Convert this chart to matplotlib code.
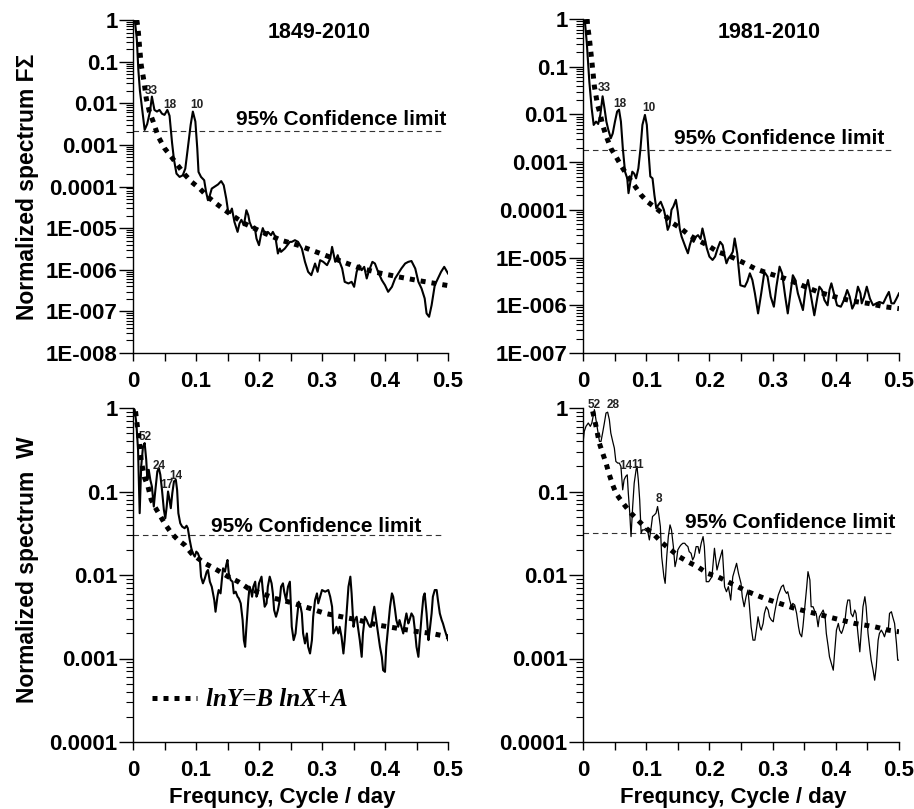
import numpy as np
import matplotlib
matplotlib.use('Agg')
import matplotlib.pyplot as plt
from matplotlib.ticker import FixedLocator, MultipleLocator, FuncFormatter, NullFormatter, LogLocator

plt.rcParams['font.family'] = ['Liberation Sans', 'DejaVu Sans']
plt.rcParams['font.weight'] = 'bold'

# ---- data (y kept as log10 of the normalized spectrum) ----
# top left: F-sigma spectrum, 1849-2010
fs1849_x = [0.0, 0.003, 0.006, 0.0085, 0.011, 0.015, 0.0185, 0.0225, 0.027, 0.030, 0.034, 0.038, 0.042,
            0.046, 0.050, 0.0545, 0.058, 0.062, 0.065, 0.069, 0.074, 0.079, 0.083, 0.087, 0.0915, 0.095,
            0.099, 0.102, 0.104, 0.108, 0.113, 0.116, 0.119, 0.122, 0.125, 0.130, 0.135, 0.140, 0.144,
            0.148, 0.151, 0.154, 0.157, 0.161, 0.166, 0.169, 0.172, 0.176, 0.180, 0.183, 0.185, 0.189,
            0.193, 0.196, 0.2, 0.203, 0.206, 0.21, 0.214, 0.219, 0.222, 0.226, 0.230, 0.233, 0.235, 0.241,
            0.245, 0.249, 0.252, 0.257, 0.262, 0.268, 0.273, 0.278, 0.283, 0.289, 0.293, 0.297, 0.302,
            0.308, 0.313, 0.316, 0.321, 0.325, 0.328, 0.332, 0.336, 0.342, 0.347, 0.351, 0.355, 0.359,
            0.363, 0.367, 0.371, 0.374, 0.380, 0.384, 0.389, 0.395, 0.4, 0.405, 0.411, 0.416, 0.421,
            0.426, 0.432, 0.437, 0.442, 0.448, 0.453, 0.458, 0.463, 0.466, 0.47, 0.474, 0.479, 0.484,
            0.489, 0.494, 0.5]
fs1849_log = [0.0, -0.02, -0.45, -1.2, -1.7, -2.2, -2.64, -2.5, -2.2, -1.84, -2.16, -2.2, -2.16,
              -2.25, -2.28, -2.16, -2.3, -2.95, -3.35, -3.69, -3.77, -3.73, -3.57, -3.08, -2.52, -2.2,
              -2.44, -3.08, -3.65, -3.77, -3.85, -4.13, -4.33, -4.21, -4.05, -4.0, -3.95, -3.87, -3.97,
              -4.29, -4.6, -4.64, -4.53, -4.85, -5.09, -4.89, -4.8, -4.93, -4.57, -4.69, -4.85, -5.0,
              -4.96, -5.25, -5.41, -5.17, -5.0, -5.17, -5.09, -5.17, -5.09, -5.21, -5.61, -5.49, -5.57, -5.49,
              -5.41, -5.33, -5.33, -5.29, -5.33, -5.49, -5.81, -6.05, -6.13, -5.85, -6.05, -5.77, -5.81,
              -5.89, -5.73, -5.45, -5.81, -5.65, -5.81, -5.97, -6.29, -6.33, -6.29, -6.41, -6.05, -5.89,
              -6.01, -5.93, -6.21, -6.05, -5.81, -5.85, -6.05, -6.25, -6.37, -6.53, -6.41, -6.21, -6.09,
              -5.97, -5.85, -5.81, -5.79, -5.97, -6.29, -6.45, -6.69, -7.05, -7.13, -6.85, -6.37, -6.21,
              -6.05, -5.93, -6.09]
fs1849_fit_x = [0.006, 0.008, 0.0106, 0.013, 0.0175, 0.021, 0.026, 0.032, 0.04, 0.05, 0.061, 0.071, 0.082,
                0.093, 0.106, 0.119, 0.132, 0.146, 0.161, 0.177, 0.204, 0.235, 0.262, 0.294, 0.326, 0.358,
                0.389, 0.421, 0.453, 0.484, 0.5]
fs1849_fit_log = [0.0, -0.2, -0.68, -1.08, -1.48, -1.88, -2.2, -2.44, -2.8, -3.08, -3.29, -3.49, -3.71,
                  -3.89, -4.05, -4.25, -4.41, -4.57, -4.73, -4.89, -5.09, -5.29, -5.41, -5.59, -5.77, -5.95,
                  -6.07, -6.17, -6.26, -6.34, -6.38]

# top right: F-sigma spectrum, 1981-2010
fs1981_x = [0.0, 0.003, 0.006, 0.010, 0.0137, 0.0169, 0.0206, 0.024, 0.0274, 0.031, 0.034, 0.037, 0.040,
            0.044, 0.047, 0.0506, 0.054, 0.057, 0.06, 0.063, 0.0665, 0.07, 0.072, 0.075, 0.078, 0.081,
            0.084, 0.0876, 0.091, 0.094, 0.098, 0.101, 0.104, 0.1065, 0.110, 0.113, 0.116, 0.119, 0.123,
            0.128, 0.131, 0.134, 0.137, 0.140, 0.143, 0.147, 0.150, 0.153, 0.156, 0.159, 0.163, 0.166,
            0.169, 0.172, 0.175, 0.179, 0.182, 0.186, 0.189, 0.192, 0.196, 0.2, 0.205, 0.209, 0.213,
            0.217, 0.221, 0.224, 0.227, 0.230, 0.234, 0.237, 0.240, 0.244, 0.249, 0.256, 0.26, 0.264,
            0.268, 0.272, 0.277, 0.282, 0.287, 0.292, 0.297, 0.302, 0.306, 0.311, 0.315, 0.32, 0.324,
            0.329, 0.332, 0.336, 0.34, 0.348, 0.352, 0.356, 0.36, 0.366, 0.371, 0.374, 0.378, 0.382,
            0.387, 0.39, 0.393, 0.397, 0.402, 0.408, 0.413, 0.418, 0.422, 0.426, 0.43, 0.435, 0.439,
            0.441, 0.445, 0.449, 0.454, 0.459, 0.464, 0.469, 0.475, 0.48, 0.484, 0.488, 0.492, 0.496, 0.5]
fs1981_log = [0.0, -0.05, -0.5, -1.31, -1.87, -2.22, -2.15, -2.2, -2.01, -1.62, -1.87, -2.15, -2.32,
              -2.5, -2.4, -2.15, -1.94, -1.9, -2.15, -2.71, -3.2, -3.34, -3.65, -3.41, -3.2, -3.24,
              -3.34, -3.13, -2.71, -2.22, -2.01, -2.22, -2.85, -3.3, -3.34, -3.69, -3.97, -3.9, -3.83,
              -4.0, -4.18, -4.42, -4.32, -4.0, -3.93, -3.79, -4.04, -4.39, -4.56, -4.67, -4.81, -4.91,
              -4.74, -4.61, -4.67, -4.56, -4.53, -4.61, -4.39, -4.56, -4.81, -4.98, -5.05, -4.98, -4.81,
              -4.67, -4.74, -4.95, -5.12, -5.02, -4.95, -4.88, -4.6, -4.91, -5.58, -5.61, -5.5, -5.33,
              -5.47, -5.75, -6.17, -5.75, -5.3, -5.4, -5.82, -6.03, -5.61, -5.19, -5.33, -5.82, -6.17,
              -5.68, -5.37, -5.47, -5.75, -6.1, -5.68, -5.47, -5.75, -6.21, -5.82, -5.61, -5.68, -5.89,
              -6.0, -5.68, -5.54, -5.75, -6.0, -6.03, -5.89, -5.68, -5.82, -6.07, -5.96, -5.61, -5.75,
              -5.96, -5.82, -5.61, -5.86, -6.0, -5.96, -5.93, -5.96, -5.82, -5.72, -5.96, -5.96, -5.86, -5.75]
fs1981_fit_x = [0.0065, 0.0074, 0.01, 0.0137, 0.018, 0.023, 0.0274, 0.031, 0.036, 0.044, 0.052, 0.061,
                0.071, 0.081, 0.092, 0.102, 0.116, 0.129, 0.142, 0.155, 0.168, 0.181, 0.197, 0.213, 0.229,
                0.245, 0.256, 0.272, 0.293, 0.32, 0.346, 0.372, 0.398, 0.425, 0.451, 0.477, 0.5]
fs1981_fit_log = [0.0, -0.15, -0.4, -0.85, -1.41, -1.8, -2.0, -2.22, -2.43, -2.71, -2.88, -3.09,
                  -3.3, -3.48, -3.69, -3.83, -3.97, -4.11, -4.28, -4.39, -4.53, -4.63, -4.74, -4.88, -4.95,
                  -5.05, -5.12, -5.23, -5.33, -5.44, -5.58, -5.72, -5.82, -5.91, -5.96, -6.03, -6.07]

# bottom left: W spectrum, 1849-2010
w1849_x = [0.0, 0.0026, 0.0053, 0.008, 0.0106, 0.013, 0.0159, 0.0185, 0.021, 0.0228, 0.025, 0.0275, 0.030,
           0.033, 0.035, 0.0386, 0.041, 0.0434, 0.046, 0.049, 0.0513, 0.0535, 0.0556, 0.058, 0.06, 0.0624,
           0.065, 0.068, 0.070, 0.072, 0.075, 0.078, 0.082, 0.085, 0.087, 0.09, 0.0926, 0.095, 0.098,
           0.1005, 0.103, 0.106, 0.108, 0.111, 0.114, 0.117, 0.119, 0.122, 0.125, 0.129, 0.131, 0.134,
           0.136, 0.139, 0.141, 0.143, 0.146, 0.148, 0.150, 0.152, 0.155, 0.158, 0.16, 0.163, 0.166,
           0.168, 0.171, 0.174, 0.176, 0.178, 0.180, 0.183, 0.185, 0.187, 0.189, 0.191, 0.194, 0.196,
           0.198, 0.2, 0.204, 0.206, 0.209, 0.212, 0.214, 0.217, 0.22, 0.222, 0.224, 0.227, 0.23, 0.233,
           0.235, 0.238, 0.240, 0.243, 0.246, 0.249, 0.252, 0.255, 0.258, 0.26, 0.263, 0.266, 0.268,
           0.27, 0.273, 0.276, 0.278, 0.281, 0.284, 0.286, 0.289, 0.292, 0.294, 0.297, 0.3, 0.305, 0.31,
           0.313, 0.316, 0.318, 0.321, 0.323, 0.326, 0.328, 0.331, 0.334, 0.336, 0.339, 0.342, 0.345,
           0.347, 0.350, 0.352, 0.355, 0.357, 0.36, 0.363, 0.365, 0.368, 0.371, 0.373, 0.376, 0.378,
           0.381, 0.383, 0.386, 0.389, 0.392, 0.395, 0.397, 0.4, 0.402, 0.405, 0.408, 0.411, 0.413,
           0.416, 0.418, 0.421, 0.423, 0.426, 0.429, 0.432, 0.434, 0.437, 0.439, 0.442, 0.445, 0.448,
           0.45, 0.453, 0.455, 0.458, 0.461, 0.463, 0.466, 0.469, 0.471, 0.474, 0.476, 0.479, 0.482,
           0.484, 0.487, 0.49, 0.492, 0.495, 0.5]
w1849_log = [0.0, -0.02, -0.18, -0.5, -1.26, -0.7, -0.46, -0.42, -0.62, -0.86, -0.74, -0.86, -0.94,
             -1.18, -1.02, -0.76, -0.72, -0.8, -0.98, -1.22, -1.32, -1.18, -1.0, -1.1, -1.2, -1.02,
             -0.88, -0.86, -0.98, -1.26, -1.38, -1.42, -1.44, -1.41, -1.44, -1.58, -1.68, -1.74, -1.78,
             -1.72, -1.74, -1.8, -2.02, -2.1, -2.04, -1.96, -1.94, -2.08, -2.14, -2.3, -2.44, -2.26,
             -2.18, -2.22, -2.06, -1.92, -1.96, -1.88, -1.82, -1.98, -2.06, -2.08, -2.22, -2.2, -2.26,
             -2.28, -2.34, -2.54, -2.78, -2.86, -2.62, -2.3, -2.14, -2.18, -2.26, -2.14, -2.08, -2.26,
             -2.22, -2.1, -2.02, -2.18, -2.38, -2.34, -2.14, -2.02, -2.1, -2.22, -2.42, -2.5, -2.42, -2.3,
             -2.14, -2.1, -2.2, -2.3, -2.14, -2.08, -2.62, -2.78, -2.7, -2.54, -2.32, -2.38, -2.46,
             -2.7, -2.82, -2.7, -2.86, -2.94, -2.78, -2.5, -2.3, -2.22, -2.34, -2.26, -2.18, -2.2, -2.18,
             -2.26, -2.38, -2.7, -2.66, -2.62, -2.7, -2.62, -2.74, -2.94, -2.78, -2.46, -2.14, -2.02,
             -2.22, -2.62, -2.54, -2.5, -2.62, -2.78, -2.98, -2.7, -2.5, -2.54, -2.58, -2.62, -2.62,
             -2.46, -2.38, -2.54, -2.7, -2.86, -2.98, -3.14, -3.16, -2.86, -2.62, -2.38, -2.22, -2.26,
             -2.42, -2.54, -2.62, -2.54, -2.62, -2.7, -2.54, -2.46, -2.58, -2.54, -2.46, -2.5, -2.7,
             -2.86, -2.98, -2.78, -2.5, -2.26, -2.22, -2.46, -2.78, -2.66, -2.46, -2.26, -2.18, -2.18,
             -2.3, -2.46, -2.54, -2.58, -2.66, -2.78]
w1849_fit_x = [0.004, 0.0069, 0.0095, 0.0132, 0.0185, 0.0238, 0.029, 0.0344, 0.0423, 0.05, 0.061, 0.0714,
               0.082, 0.0926, 0.103, 0.114, 0.124, 0.138, 0.151, 0.167, 0.183, 0.204, 0.225, 0.246, 0.281,
               0.305, 0.331, 0.358, 0.389, 0.421, 0.453, 0.474, 0.5]
w1849_fit_log = [-0.04, -0.22, -0.36, -0.64, -0.84, -0.94, -1.1, -1.18, -1.28, -1.38, -1.5, -1.58,
                 -1.64, -1.74, -1.8, -1.86, -1.9, -1.96, -2.02, -2.08, -2.16, -2.22, -2.28, -2.32, -2.4,
                 -2.46, -2.5, -2.54, -2.6, -2.64, -2.68, -2.7, -2.74]

# bottom right: W spectrum, 1981-2010
w1981_x = [0.0, 0.002, 0.0047, 0.0084, 0.0116, 0.014, 0.0169, 0.018, 0.0205, 0.023, 0.026, 0.0285, 0.031,
           0.0338, 0.0364, 0.039, 0.0417, 0.044, 0.047, 0.0496, 0.052, 0.055, 0.0575, 0.06, 0.0628, 0.065,
           0.0675, 0.070, 0.0717, 0.074, 0.076, 0.0786, 0.081, 0.084, 0.0854, 0.0875, 0.0897, 0.092,
           0.094, 0.097, 0.0997, 0.102, 0.105, 0.108, 0.110, 0.113, 0.1155, 0.118, 0.120, 0.1224, 0.1245,
           0.128, 0.130, 0.1325, 0.135, 0.1377, 0.140, 0.143, 0.1456, 0.148, 0.15, 0.153, 0.155, 0.158,
           0.161, 0.163, 0.166, 0.168, 0.171, 0.1735, 0.176, 0.179, 0.182, 0.184, 0.187, 0.190, 0.192,
           0.195, 0.199, 0.204, 0.208, 0.212, 0.216, 0.2205, 0.224, 0.227, 0.230, 0.2337, 0.237, 0.243,
           0.246, 0.25, 0.252, 0.255, 0.258, 0.261, 0.263, 0.266, 0.269, 0.272, 0.275, 0.277, 0.28,
           0.282, 0.285, 0.287, 0.29, 0.293, 0.295, 0.298, 0.301, 0.303, 0.306, 0.309, 0.312, 0.314,
           0.317, 0.319, 0.322, 0.324, 0.327, 0.33, 0.332, 0.335, 0.338, 0.341, 0.343, 0.346, 0.348,
           0.351, 0.354, 0.356, 0.359, 0.361, 0.364, 0.367, 0.369, 0.372, 0.374, 0.377, 0.38, 0.383,
           0.385, 0.388, 0.39, 0.393, 0.396, 0.398, 0.401, 0.404, 0.406, 0.409, 0.411, 0.414, 0.417,
           0.419, 0.422, 0.424, 0.427, 0.43, 0.432, 0.435, 0.438, 0.44, 0.443, 0.446, 0.448, 0.451,
           0.454, 0.456, 0.459, 0.4615, 0.464, 0.467, 0.469, 0.472, 0.475, 0.477, 0.48, 0.483, 0.485,
           0.488, 0.49, 0.493, 0.496, 0.498, 0.5]
w1981_log = [-0.42, -0.28, -0.22, -0.18, -0.22, -0.18, -0.06, -0.02, -0.14, -0.26, -0.4, -0.4, -0.3,
             -0.18, -0.06, -0.05, -0.14, -0.3, -0.4, -0.48, -0.64, -0.66, -0.66, -0.7, -0.98, -0.86,
             -0.82, -0.8, -1.02, -1.26, -1.54, -1.18, -0.9, -0.74, -0.7, -0.86, -1.1, -1.5,
             -1.46, -1.46, -1.44, -1.46, -1.58, -1.42, -1.3, -1.28, -1.26, -1.18, -1.28, -1.42, -1.78,
             -2.02, -2.1, -1.78, -1.54, -1.4, -1.46, -1.66, -1.9, -1.82, -1.7, -1.66, -1.64, -1.62,
             -1.62, -1.64, -1.66, -1.72, -1.74, -1.82, -1.78, -1.66, -1.66, -1.74, -1.62, -1.54, -1.66,
             -2.08, -2.08, -2.02, -1.68, -1.94, -1.82, -1.7, -2.14, -2.2, -2.14, -2.3, -2.02, -1.86,
             -1.98, -2.1, -2.26, -2.38, -2.26, -2.18, -2.34, -2.62, -2.78, -2.78, -2.62, -2.5, -2.62,
             -2.66, -2.58, -2.46, -2.38, -2.42, -2.5, -2.54, -2.56, -2.46, -2.34, -2.24, -2.18, -2.14,
             -2.12, -2.18, -2.22, -2.2, -2.3, -2.38, -2.34, -2.36, -2.46, -2.62, -2.7, -2.74, -2.62,
             -2.38, -2.14, -1.96, -2.06, -2.38, -2.38, -2.44, -2.46, -2.62, -2.5, -2.46, -2.42, -2.5,
             -2.7, -2.86, -2.98, -3.06, -3.14, -2.94, -2.66, -2.58, -2.66, -2.7, -2.66, -2.58, -2.38,
             -2.3, -2.3, -2.46, -2.5, -2.42, -2.46, -2.7, -2.92, -2.7, -2.38, -2.26, -2.38, -2.7,
             -2.9, -3.02, -3.14, -3.26, -3.1, -2.78, -2.7, -2.66, -2.7, -2.74, -2.66, -2.66, -2.46,
             -2.44, -2.5, -2.58, -2.82, -3.02, -3.02]
w1981_fit_x = [0.0153, 0.019, 0.0222, 0.0258, 0.0311, 0.0364, 0.0417, 0.0469, 0.0522, 0.0575, 0.0654,
               0.076, 0.0891, 0.0997, 0.113, 0.126, 0.139, 0.152, 0.168, 0.181, 0.197, 0.213, 0.229,
               0.242, 0.261, 0.287, 0.303, 0.335, 0.367, 0.398, 0.43, 0.4615, 0.483, 0.5]
w1981_fit_log = [-0.04, -0.16, -0.28, -0.42, -0.54, -0.66, -0.8, -0.92, -1.02, -1.08, -1.16,
                 -1.26, -1.36, -1.44, -1.52, -1.62, -1.7, -1.78, -1.85, -1.9, -1.98, -2.02, -2.08,
                 -2.13, -2.2, -2.28, -2.32, -2.4, -2.46, -2.52, -2.58, -2.62, -2.66, -2.68]

# 95% confidence levels
conf_levels = [0.0021, 0.0018, 0.03, 0.0316]

# period labels (days) above the significant peaks: (text, x, log10 y)
peaks_fs1849 = (['33', '18', '10'], [0.0296, 0.0587, 0.101], [-1.70, -2.04, -2.04])
peaks_fs1981 = (['33', '18', '10'], [0.034, 0.059, 0.105], [-1.45, -1.78, -1.87])
peaks_w1849 = (['52', '24', '17', '14'], [0.0196, 0.041, 0.053, 0.068], [-0.35, -0.69, -0.92, -0.81])
peaks_w1981 = (['52', '28', '14', '11', '8'], [0.0174, 0.047, 0.0675, 0.0865, 0.1195],
               [0.04, 0.03, -0.70, -0.68, -1.09])

titles = ['1849-2010', '1981-2010']


def tick_label(v, pos):
    e = int(round(np.log10(v)))
    if e >= 0:
        return '1'
    if e >= -4:
        return '0.' + '0' * (-e - 1) + '1'
    return '1E-%03d' % (-e)


def draw_panel(ax, x, ylog, fx, fylog, conf, ymin_exp, peaks, lw, conf_text_x, conf_text_log):
    ax.plot(x, np.power(10.0, ylog), color='black', lw=lw, zorder=3)
    fit, = ax.plot(fx, np.power(10.0, fylog), color='black', lw=3.6,
                   linestyle=(0, (1, 1.2)), dash_capstyle='butt', zorder=4)
    ax.axhline(conf, xmin=0, xmax=0.978, color='#333333', lw=0.8, dashes=(5, 3.5), zorder=2)
    ax.text(conf_text_x, 10 ** conf_text_log, '95% Confidence limit', ha='center', va='baseline',
            fontsize=15, fontweight='bold')
    for lab, px, py in zip(*peaks):
        ax.text(px, 10 ** py, lab, ha='center', va='center', fontsize=8.5, fontweight='bold',
                color='#222222', clip_on=False)

    ax.set_yscale('log')
    ax.set_xlim(0, 0.5)
    ax.set_ylim(10.0 ** ymin_exp, 1)
    ax.yaxis.set_major_locator(FixedLocator([10.0 ** k for k in range(ymin_exp, 1)]))
    ax.yaxis.set_major_formatter(FuncFormatter(tick_label))
    ax.yaxis.set_minor_locator(LogLocator(base=10, subs=np.arange(2, 10), numticks=30))
    ax.yaxis.set_minor_formatter(NullFormatter())
    ax.xaxis.set_major_locator(MultipleLocator(0.1))
    ax.xaxis.set_minor_locator(MultipleLocator(0.05))
    ax.xaxis.set_major_formatter(FuncFormatter(lambda v, p: '%g' % round(v, 2)))

    for s in ['top', 'right']:
        ax.spines[s].set_visible(False)
    for s in ['left', 'bottom']:
        ax.spines[s].set_linewidth(1.0)
    ax.tick_params(axis='y', which='major', direction='out', length=10, width=1, pad=1, labelsize=16)
    ax.tick_params(axis='y', which='minor', direction='out', length=5, width=0.8)
    ax.tick_params(axis='x', which='both', direction='out', length=6, width=1, pad=7, labelsize=16)
    return fit


fig = plt.figure(figsize=(9.14, 8.09), dpi=100)
W, H = 914.0, 809.0

ax1 = fig.add_axes([133 / W, 1 - 353 / H, 315 / W, 333 / H])
ax2 = fig.add_axes([583 / W, 1 - 353 / H, 316 / W, 334 / H])
ax3 = fig.add_axes([133 / W, 1 - 742 / H, 315 / W, 334 / H])
ax4 = fig.add_axes([583 / W, 1 - 742 / H, 316 / W, 334 / H])

draw_panel(ax1, fs1849_x, fs1849_log, fs1849_fit_x, fs1849_fit_log, conf_levels[0], -8,
           peaks_fs1849, 1.5, 0.33, -2.52)
draw_panel(ax2, fs1981_x, fs1981_log, fs1981_fit_x, fs1981_fit_log, conf_levels[1], -7,
           peaks_fs1981, 1.5, 0.31, -2.63)
fit3 = draw_panel(ax3, w1849_x, w1849_log, w1849_fit_x, w1849_fit_log, conf_levels[2], -4,
                  peaks_w1849, 1.5, 0.29, -1.49)
draw_panel(ax4, w1981_x, w1981_log, w1981_fit_x, w1981_fit_log, conf_levels[3], -4,
           peaks_w1981, 0.9, 0.328, -1.44)

ax1.text(0.295, 10 ** -0.29, titles[0], ha='center', va='center', fontsize=15.5, fontweight='bold')
ax2.text(0.295, 10 ** -0.29, titles[1], ha='center', va='center', fontsize=15.5, fontweight='bold')

ax3.legend([fit3], ['lnY=B lnX+A'], loc='center left', bbox_to_anchor=(0.06, 0.126),
           frameon=False, borderpad=0, borderaxespad=0, handlelength=1.8, handletextpad=0.35,
           prop={'family': 'Liberation Serif', 'weight': 'bold', 'style': 'italic', 'size': 18})

fig.text(28 / W, 1 - 187 / H, 'Normalized spectrum F\u03a3', rotation=90, ha='center', va='center',
         fontsize=16.5, fontweight='bold')
fig.text(28 / W, 1 - 570 / H, 'Normalized spectrum  W', rotation=90, ha='center', va='center',
         fontsize=16.5, fontweight='bold')
fig.text(282 / W, 1 - 797 / H, 'Frequncy, Cycle / day', ha='center', va='center', fontsize=16,
         fontweight='bold')
fig.text(733 / W, 1 - 797 / H, 'Frequncy, Cycle / day', ha='center', va='center', fontsize=16,
         fontweight='bold')

fig.savefig('out.png', dpi=100)
